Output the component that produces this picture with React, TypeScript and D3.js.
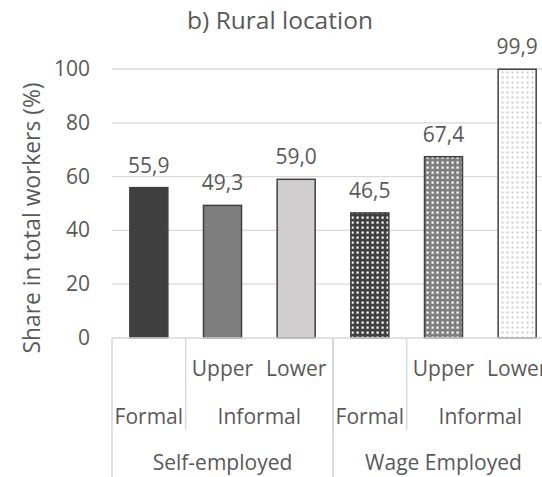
import React from "react";
import * as d3 from "d3";

const ids = ["se-formal", "se-upper", "se-lower", "we-formal", "we-upper", "we-lower"];
const level1 = ["", "Upper", "Lower", "", "Upper", "Lower"];
const level2 = ["Formal", "Informal", "Informal", "Formal", "Informal", "Informal"];
const level3 = ["Self-employed", "Self-employed", "Self-employed", "Wage Employed", "Wage Employed", "Wage Employed"];
const values = [55.9, 49.3, 59.0, 46.5, 67.4, 99.9];
const yTicks = [0, 20, 40, 60, 80, 100];
const title = "b) Rural location";
const yTitle = "Share in total workers (%)";

const W = 542;
const H = 477;
const FONT = "'Open Sans', sans-serif";
const TXT = "#595959";
const GRID = "#d9d9d9";

const fills = ["#404040", "#7f7f7f", "#d0cece", "url(#patA)", "url(#patB)", "url(#patC)"];

function spans(labels: string[], parents: string[]) {
  const out: { label: string; start: number; end: number }[] = [];
  labels.forEach((l, i) => {
    const last = out[out.length - 1];
    if (last && last.label === l && parents[last.start] === parents[i]) last.end = i;
    else out.push({ label: l, start: i, end: i });
  });
  return out;
}

export default function App() {
  const x = d3.scaleBand<string>().domain(ids).range([112, 554]).paddingInner(0.484).paddingOuter(0.242);
  const y = d3.scaleLinear().domain([0, 100]).range([338, 69]);
  const step = x.step();
  const bandLeft = (i: number) => 112 + i * step;
  const fmt = (v: number) => d3.format(".1f")(v).replace(".", ",");

  const l2 = spans(level2, level3);
  const l3 = spans(level3, level3);
  const y0 = y(0);

  return (
    <svg width={W} height={H} style={{ position: "absolute", left: 0, top: 0 }} fontFamily={FONT}>
      <defs>
        <pattern id="patA" width={5} height={5} patternUnits="userSpaceOnUse">
          <rect width={5} height={5} fill="#404040" />
          <rect x={1.5} y={1.5} width={2.2} height={2.2} fill="#ffffff" />
        </pattern>
        <pattern id="patB" width={5} height={5} patternUnits="userSpaceOnUse">
          <rect width={5} height={5} fill="#7f7f7f" />
          <rect x={1.5} y={1.5} width={2.2} height={2.2} fill="#ffffff" />
        </pattern>
        <pattern id="patC" width={5} height={5} patternUnits="userSpaceOnUse">
          <rect width={5} height={5} fill="#ffffff" />
          <rect x={1.5} y={1.5} width={2} height={2} fill="#cccccc" />
        </pattern>
      </defs>
      <rect width={W} height={H} fill="#fff" />
      <text x={280} y={29} textAnchor="middle" fontSize={24.5} fill={TXT}>{title}</text>
      {yTicks.map((t) => (
        <g key={t}>
          {t > 0 && <line x1={112} x2={W} y1={y(t)} y2={y(t)} stroke={GRID} strokeWidth={1.3} />}
          <text x={90} y={y(t) + 7} textAnchor="end" fontSize={21} fill={TXT}>{t}</text>
        </g>
      ))}
      <text transform={`translate(40,${218}) rotate(-90)`} textAnchor="middle" fontSize={22.8} fill={TXT}>{yTitle}</text>
      {values.map((v, i) => (
        <g key={ids[i]}>
          <rect x={x(ids[i])} y={y(v)} width={x.bandwidth()} height={y0 - y(v)} fill={fills[i]} stroke="#404040" strokeWidth={1.5} />
          <text x={(x(ids[i]) as number) + x.bandwidth() / 2} y={y(v) - 15} textAnchor="middle" fontSize={21} fill={TXT}>{fmt(v)}</text>
        </g>
      ))}
      <line x1={112} x2={W} y1={y0} y2={y0} stroke={GRID} strokeWidth={1.5} />
      {level1.map((l, i) => l ? (
        <text key={"l1" + i} x={bandLeft(i) + step / 2} y={376} textAnchor="middle" fontSize={21} fill={TXT}>{l}</text>
      ) : null)}
      {l2.map((s, k) => (
        <g key={"l2" + k}>
          <text x={(bandLeft(s.start) + bandLeft(s.end + 1)) / 2} y={424} textAnchor="middle" fontSize={21} fill={TXT}>{s.label}</text>
          {s.start > 0 && <line x1={bandLeft(s.start)} x2={bandLeft(s.start)} y1={y0} y2={430} stroke={GRID} strokeWidth={1.5} />}
        </g>
      ))}
      {l3.map((s, k) => (
        <g key={"l3" + k}>
          <text x={(bandLeft(s.start) + bandLeft(s.end + 1)) / 2} y={470} textAnchor="middle" fontSize={21} fill={TXT}>{s.label}</text>
          <line x1={bandLeft(s.start)} x2={bandLeft(s.start)} y1={y0} y2={H} stroke={GRID} strokeWidth={1.5} />
          <line x1={bandLeft(s.end + 1)} x2={bandLeft(s.end + 1)} y1={y0} y2={H} stroke={GRID} strokeWidth={1.5} />
        </g>
      ))}
    </svg>
  );
}
